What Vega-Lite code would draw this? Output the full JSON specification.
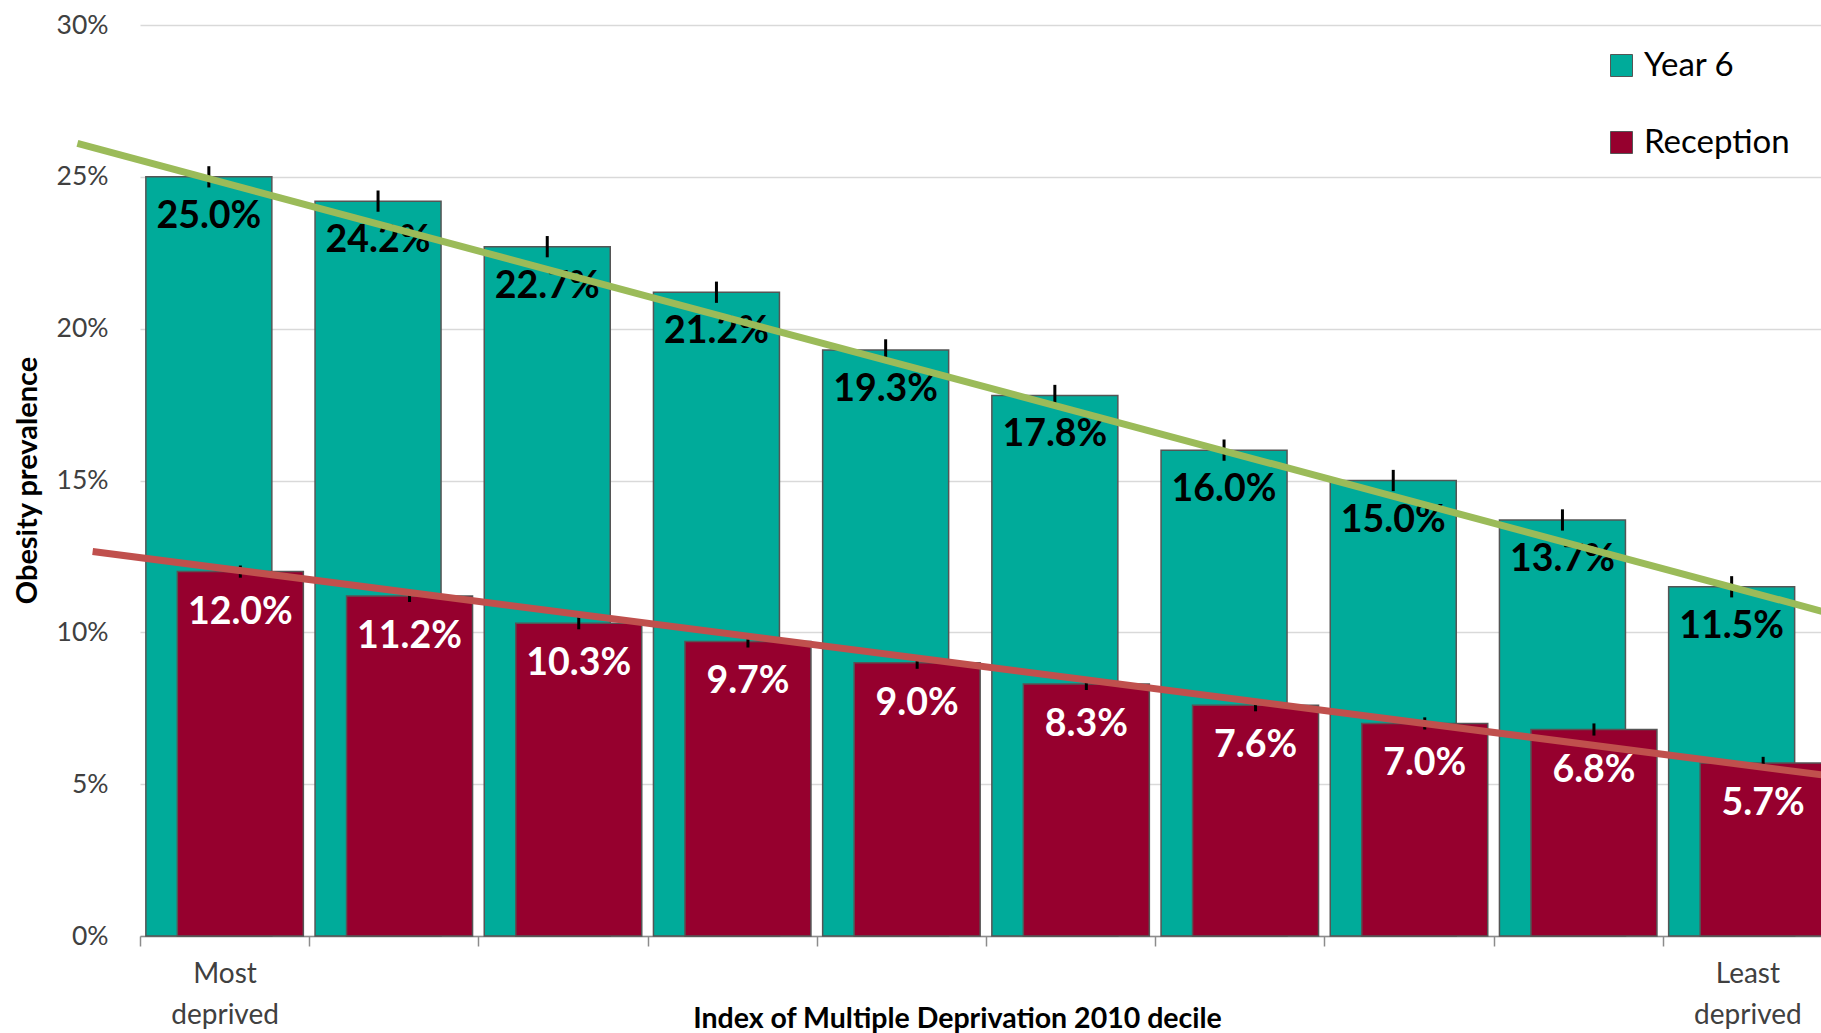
{
  "$schema": "https://vega.github.io/schema/vega-lite/v6.json",
  "width": 1681,
  "height": 911,
  "autosize": {"type": "none"},
  "padding": {"left": 140, "top": 25, "right": 0, "bottom": 97},
  "background": "white",
  "config": {
    "view": {"stroke": null},
    "font": "Lato",
    "legend": {
      "orient": "none",
      "legendX": 1465,
      "legendY": 24,
      "direction": "vertical",
      "symbolType": "square",
      "symbolSize": 484,
      "symbolStrokeColor": "#555555",
      "symbolStrokeWidth": 1,
      "labelFont": "Lato",
      "labelFontSize": 33,
      "labelColor": "#000000",
      "labelOffset": 6,
      "rowPadding": 43,
      "title": null
    }
  },
  "datasets": {
    "year6": [
      {"decile": "1", "series": "Year 6", "value": 0.250, "lo": 0.2465, "hi": 0.2535},
      {"decile": "2", "series": "Year 6", "value": 0.242, "lo": 0.2385, "hi": 0.2455},
      {"decile": "3", "series": "Year 6", "value": 0.227, "lo": 0.2235, "hi": 0.2305},
      {"decile": "4", "series": "Year 6", "value": 0.212, "lo": 0.2085, "hi": 0.2155},
      {"decile": "5", "series": "Year 6", "value": 0.193, "lo": 0.1895, "hi": 0.1965},
      {"decile": "6", "series": "Year 6", "value": 0.178, "lo": 0.1745, "hi": 0.1815},
      {"decile": "7", "series": "Year 6", "value": 0.160, "lo": 0.1565, "hi": 0.1635},
      {"decile": "8", "series": "Year 6", "value": 0.150, "lo": 0.1465, "hi": 0.1535},
      {"decile": "9", "series": "Year 6", "value": 0.137, "lo": 0.1335, "hi": 0.1405},
      {"decile": "10", "series": "Year 6", "value": 0.115, "lo": 0.1115, "hi": 0.1185}
    ],
    "reception": [
      {"decile": "1", "series": "Reception", "value": 0.120, "lo": 0.118, "hi": 0.122},
      {"decile": "2", "series": "Reception", "value": 0.112, "lo": 0.110, "hi": 0.114},
      {"decile": "3", "series": "Reception", "value": 0.103, "lo": 0.101, "hi": 0.105},
      {"decile": "4", "series": "Reception", "value": 0.097, "lo": 0.095, "hi": 0.099},
      {"decile": "5", "series": "Reception", "value": 0.090, "lo": 0.088, "hi": 0.092},
      {"decile": "6", "series": "Reception", "value": 0.083, "lo": 0.081, "hi": 0.085},
      {"decile": "7", "series": "Reception", "value": 0.076, "lo": 0.074, "hi": 0.078},
      {"decile": "8", "series": "Reception", "value": 0.070, "lo": 0.068, "hi": 0.072},
      {"decile": "9", "series": "Reception", "value": 0.068, "lo": 0.066, "hi": 0.070},
      {"decile": "10", "series": "Reception", "value": 0.057, "lo": 0.055, "hi": 0.059}
    ],
    "trendYear6": [
      {"pos": -0.37, "value": 0.2610},
      {"pos": 9.95, "value": 0.1068}
    ],
    "trendReception": [
      {"pos": -0.28, "value": 0.1266},
      {"pos": 9.95, "value": 0.0530}
    ]
  },
  "resolve": {"scale": {"x": "independent"}},
  "layer": [
    {
      "encoding": {
        "x": {
          "field": "decile",
          "type": "nominal",
          "title": "Index of Multiple Deprivation 2010 decile",
          "scale": {
            "domain": ["1", "2", "3", "4", "5", "6", "7", "8", "9", "10"],
            "range": [0, 1692],
            "paddingInner": 0,
            "paddingOuter": 0
          }
        }
      },
      "layer": [
        {
          "data": {"name": "year6"},
          "mark": {"type": "bar", "width": 126, "xOffset": -15.75, "stroke": "#555555", "strokeWidth": 1.5},
          "encoding": {
            "x": {
              "field": "decile",
              "type": "nominal",
              "title": "Index of Multiple Deprivation 2010 decile",
              "axis": {
                "labelAngle": 0,
                "labelExpr": "datum.value == '1' ? ['Most', 'deprived'] : datum.value == '10' ? ['Least', 'deprived'] : ''",
                "labelFont": "Lato",
                "labelFontSize": 28,
                "labelColor": "#404040",
                "labelLineHeight": 41,
                "labelBaseline": "top",
                "labelPadding": 14,
                "tickBand": "extent",
                "tickSize": 10,
                "tickColor": "#8c8c8c",
                "tickWidth": 1.5,
                "domainColor": "#8c8c8c",
                "domainWidth": 1.5,
                "grid": false,
                "titleFont": "Lato",
                "titleFontSize": 28.5,
                "titleFontWeight": "bold",
                "titleColor": "#000000",
                "titleX": 817,
                "titleY": 91,
                "titleAlign": "center",
                "titleBaseline": "alphabetic"
              }
            },
            "y": {
              "field": "value",
              "type": "quantitative",
              "title": "Obesity prevalence",
              "scale": {"domain": [0, 0.3]},
              "axis": {
                "values": [0, 0.05, 0.1, 0.15, 0.2, 0.25, 0.3],
                "format": ".0%",
                "labelFont": "Lato",
                "labelFontSize": 26.5,
                "labelColor": "#404040",
                "labelPadding": 32,
                "domain": false,
                "ticks": false,
                "grid": true,
                "gridColor": "#d9d9d9",
                "gridWidth": 1.5,
                "titleFont": "Lato",
                "titleFontSize": 29,
                "titleFontWeight": "bold",
                "titleColor": "#000000",
                "titleX": -104,
                "titleY": 455,
                "titleAlign": "center",
                "titleBaseline": "alphabetic",
                "titleAngle": -90
              }
            },
            "color": {
              "field": "series",
              "type": "nominal",
              "scale": {"domain": ["Year 6", "Reception"], "range": ["#00AB9A", "#96002E"]}
            }
          }
        },
        {
          "data": {"name": "year6"},
          "mark": {"type": "rule", "xOffset": -15.75, "strokeWidth": 3, "color": "#000000"},
          "encoding": {
            "x": {"field": "decile", "type": "nominal"},
            "y": {"field": "lo", "type": "quantitative", "title": "Obesity prevalence"},
            "y2": {"field": "hi"}
          }
        },
        {
          "data": {"name": "reception"},
          "mark": {"type": "bar", "width": 126, "xOffset": 15.75, "stroke": "#555555", "strokeWidth": 1.5},
          "encoding": {
            "x": {"field": "decile", "type": "nominal"},
            "y": {"field": "value", "type": "quantitative", "title": "Obesity prevalence"},
            "color": {"field": "series", "type": "nominal"}
          }
        },
        {
          "data": {"name": "reception"},
          "mark": {"type": "rule", "xOffset": 15.75, "strokeWidth": 3, "color": "#000000"},
          "encoding": {
            "x": {"field": "decile", "type": "nominal"},
            "y": {"field": "lo", "type": "quantitative", "title": "Obesity prevalence"},
            "y2": {"field": "hi"}
          }
        },
        {
          "data": {"name": "year6"},
          "mark": {"type": "text", "xOffset": -15.75, "dy": 51, "align": "center", "baseline": "alphabetic", "font": "Lato", "fontSize": 37.5, "fontWeight": "bold", "color": "#000000"},
          "encoding": {
            "x": {"field": "decile", "type": "nominal"},
            "y": {"field": "value", "type": "quantitative", "title": "Obesity prevalence"},
            "text": {"field": "value", "type": "quantitative", "format": ".1%"}
          }
        },
        {
          "data": {"name": "reception"},
          "mark": {"type": "text", "xOffset": 15.75, "dy": 52, "align": "center", "baseline": "alphabetic", "font": "Lato", "fontSize": 37.5, "fontWeight": "bold", "color": "#FFFFFF"},
          "encoding": {
            "x": {"field": "decile", "type": "nominal"},
            "y": {"field": "value", "type": "quantitative", "title": "Obesity prevalence"},
            "text": {"field": "value", "type": "quantitative", "format": ".1%"}
          }
        }
      ]
    },
    {
      "encoding": {
        "x": {
          "field": "pos",
          "type": "quantitative",
          "scale": {"domain": [0, 10], "range": [0, 1692], "zero": false, "nice": false},
          "axis": null
        }
      },
      "layer": [
        {
          "data": {"name": "trendYear6"},
          "mark": {"type": "line", "color": "#9BBB59", "strokeWidth": 7, "strokeCap": "butt", "clip": false},
          "encoding": {
            "x": {"field": "pos", "type": "quantitative", "axis": null},
            "y": {"field": "value", "type": "quantitative", "title": "Obesity prevalence"}
          }
        },
        {
          "data": {"name": "trendReception"},
          "mark": {"type": "line", "color": "#C0504D", "strokeWidth": 7, "strokeCap": "butt", "clip": false},
          "encoding": {
            "x": {"field": "pos", "type": "quantitative", "axis": null},
            "y": {"field": "value", "type": "quantitative", "title": "Obesity prevalence"}
          }
        }
      ]
    }
  ]
}
